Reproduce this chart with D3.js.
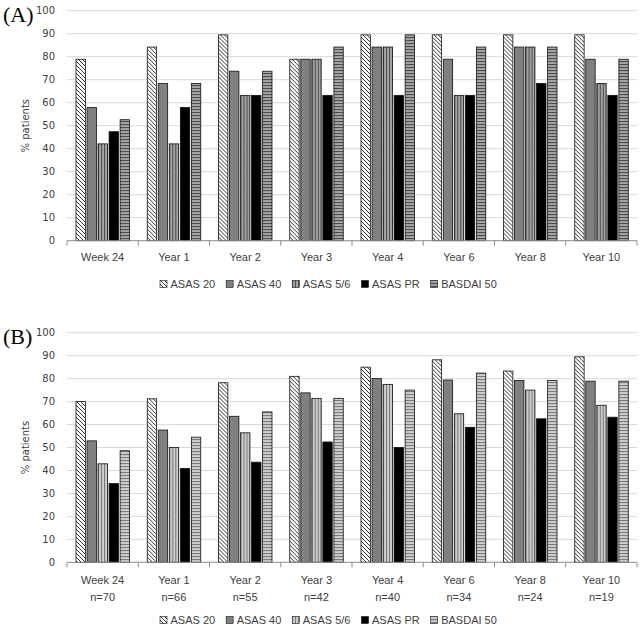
<!DOCTYPE html>
<html>
<head>
<meta charset="utf-8">
<script src="https://cdn.jsdelivr.net/npm/d3@7"></script>
<style>
  body { margin: 0; background: #fff; }
  svg { display: block; }
</style>
</head>
<body>
<svg id="chart"></svg>
<script>
// Data
const categories = ["Week 24", "Year 1", "Year 2", "Year 3", "Year 4", "Year 6", "Year 8", "Year 10"];
const nLabels = ["n=70", "n=66", "n=55", "n=42", "n=40", "n=34", "n=24", "n=19"];
const seriesNames = ["ASAS 20", "ASAS 40", "ASAS 5/6", "ASAS PR", "BASDAI 50"];
const yTicks = [0, 10, 20, 30, 40, 50, 60, 70, 80, 90, 100];

// Panel A (completers)
const asas20A = [78.9, 84.2, 89.5, 78.9, 89.5, 89.5, 89.5, 89.5];
const asas40A = [57.9, 68.4, 73.7, 78.9, 84.2, 78.9, 84.2, 78.9];
const asas56A = [42.1, 42.1, 63.2, 78.9, 84.2, 63.2, 84.2, 68.4];
const asasPrA = [47.4, 57.9, 63.2, 63.2, 63.2, 63.2, 68.4, 63.2];
const basdaiA = [52.6, 68.4, 73.7, 84.2, 89.5, 84.2, 84.2, 78.9];

// Panel B (observed)
const asas20B = [70.0, 71.2, 78.2, 81.0, 85.0, 88.2, 83.3, 89.5];
const asas40B = [52.9, 57.6, 63.6, 73.8, 80.0, 79.4, 79.2, 78.9];
const asas56B = [42.9, 50.0, 56.4, 71.4, 77.5, 64.7, 75.0, 68.4];
const asasPrB = [34.3, 40.9, 43.6, 52.4, 50.0, 58.8, 62.5, 63.2];
const basdaiB = [48.6, 54.5, 65.5, 71.4, 75.0, 82.4, 79.2, 78.9];

const width = 644, height = 632;
const svg = d3.select("#chart").attr("width", width).attr("height", height);
const defs = svg.append("defs");

// Patterns
function hatch(id) {
  const p = defs.append("pattern").attr("id", id)
    .attr("patternUnits", "userSpaceOnUse").attr("width", 4).attr("height", 4);
  p.append("rect").attr("width", 4).attr("height", 4).attr("fill", "#fff");
  p.append("path").attr("d", "M0,0L4,4M-1,3L1,5M3,-1L5,1")
    .attr("stroke", "#333").attr("stroke-width", 1);
}
function stripes(id, vertical, bg, line) {
  const p = defs.append("pattern").attr("id", id)
    .attr("patternUnits", "userSpaceOnUse").attr("width", 3).attr("height", 3);
  p.append("rect").attr("width", 3).attr("height", 3).attr("fill", bg);
  if (vertical) p.append("rect").attr("x", 1).attr("width", 1.1).attr("height", 3).attr("fill", line);
  else p.append("rect").attr("y", 1).attr("width", 3).attr("height", 1.1).attr("fill", line);
}
hatch("hatch");
stripes("vertA", true, "#a6a6a6", "#4d4d4d");
stripes("horA", false, "#a6a6a6", "#4d4d4d");
stripes("vertB", true, "#cfcfcf", "#7a7a7a");
stripes("horB", false, "#cfcfcf", "#7a7a7a");

const x0 = d3.scaleBand().domain(categories).range([67, 637]);
const x1 = d3.scaleBand().domain(seriesNames).range([9, 62.5]).paddingInner(0.15);

function drawPanel(opts) {
  const y = d3.scaleLinear().domain([0, 100]).range([opts.y0, opts.y100]);
  const g = svg.append("g");

  // gridlines
  g.selectAll(".grid").data(yTicks.slice(1)).enter().append("line")
    .attr("x1", 67).attr("x2", 637)
    .attr("y1", d => y(d)).attr("y2", d => y(d))
    .attr("stroke", "#d9d9d9").attr("stroke-width", 1);

  // y tick labels
  g.selectAll(".ytick").data(yTicks).enter().append("text")
    .attr("x", 55).attr("y", d => y(d) + 3.5)
    .attr("text-anchor", "end")
    .attr("font-family", "DejaVu Sans").attr("font-size", 10).attr("fill", "#404040")
    .text(d => d);

  // bars
  const groups = g.selectAll(".cat").data(categories).enter().append("g")
    .attr("transform", d => "translate(" + x0(d) + ",0)");
  groups.selectAll("rect").data((d, i) => seriesNames.map((s, k) => ({ s: s, v: opts.values[k][i] })))
    .enter().append("rect")
    .attr("x", d => x1(d.s))
    .attr("y", d => y(d.v))
    .attr("width", x1.bandwidth())
    .attr("height", d => y(0) - y(d.v))
    .attr("fill", (d, k) => opts.fills[k])
    .attr("stroke", "#111").attr("stroke-width", 0.8);

  // x axis line and ticks
  g.append("line").attr("x1", 67).attr("x2", 637)
    .attr("y1", y(0)).attr("y2", y(0)).attr("stroke", "#8c8c8c");
  g.selectAll(".xtick").data(d3.range(categories.length + 1)).enter().append("line")
    .attr("x1", i => 67 + i * x0.step()).attr("x2", i => 67 + i * x0.step())
    .attr("y1", y(0)).attr("y2", y(0) + 5).attr("stroke", "#8c8c8c");

  // category labels
  g.selectAll(".xlab").data(categories).enter().append("text")
    .attr("x", d => x0(d) + x0.bandwidth() / 2).attr("y", opts.labelY)
    .attr("text-anchor", "middle")
    .attr("font-family", "Liberation Sans").attr("font-size", 11).attr("fill", "#404040")
    .text(d => d);
  if (opts.nLabels) {
    g.selectAll(".nlab").data(opts.nLabels).enter().append("text")
      .attr("x", (d, i) => x0(categories[i]) + x0.bandwidth() / 2).attr("y", opts.labelY + 17)
      .attr("text-anchor", "middle")
      .attr("font-family", "Liberation Sans").attr("font-size", 11).attr("fill", "#404040")
      .text(d => d);
  }

  // y title
  g.append("text")
    .attr("transform", "translate(29," + (opts.y0 + opts.y100) / 2 + ") rotate(-90)")
    .attr("text-anchor", "middle")
    .attr("font-family", "DejaVu Sans").attr("font-size", 10).attr("fill", "#404040")
    .text("% patients");

  // panel label
  g.append("text").attr("x", 3).attr("y", opts.y100 + 11)
    .attr("font-family", "Liberation Serif").attr("font-size", 22).attr("fill", "#000")
    .text(opts.panel);

  // legend
  let lx = 160;
  seriesNames.forEach((s, k) => {
    g.append("rect").attr("x", lx).attr("y", opts.legendY - 7.5)
      .attr("width", 7).attr("height", 7)
      .attr("fill", opts.fills[k]).attr("stroke", "#111").attr("stroke-width", 0.6);
    const t = g.append("text").attr("x", lx + 10.5).attr("y", opts.legendY)
      .attr("font-family", "Liberation Sans").attr("font-size", 11).attr("fill", "#404040")
      .text(s);
    lx += 10.5 + t.node().getComputedTextLength() + 11;
  });
}

drawPanel({
  panel: "(A)", y0: 240.7, y100: 10.7, labelY: 261, legendY: 288,
  values: [asas20A, asas40A, asas56A, asasPrA, basdaiA],
  fills: ["url(#hatch)", "#808080", "url(#vertA)", "#000", "url(#horA)"]
});
drawPanel({
  panel: "(B)", y0: 562.3, y100: 332.7, labelY: 584, legendY: 624, nLabels: nLabels,
  values: [asas20B, asas40B, asas56B, asasPrB, basdaiB],
  fills: ["url(#hatch)", "#808080", "url(#vertB)", "#000", "url(#horB)"]
});
</script>
</body>
</html>
